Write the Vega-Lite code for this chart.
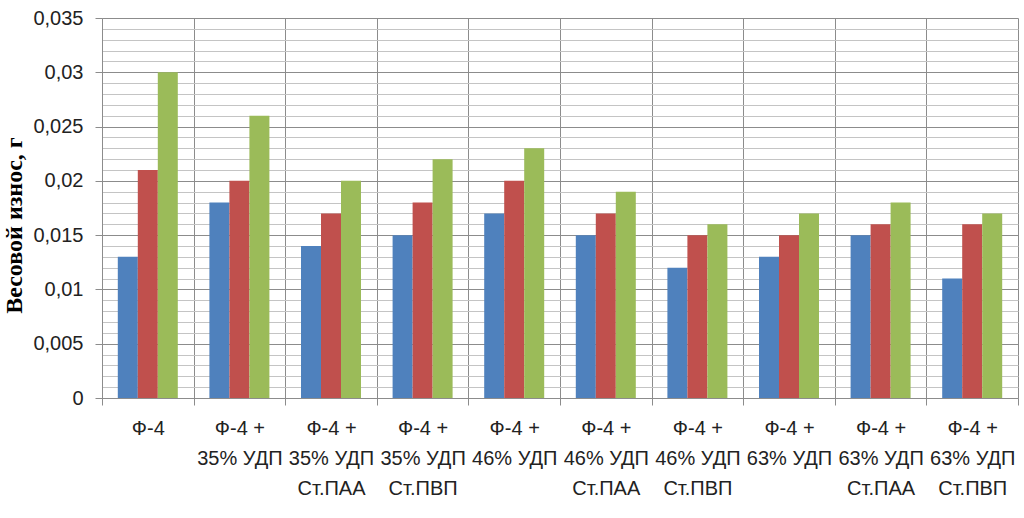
{
  "$schema": "https://vega.github.io/schema/vega-lite/v6.json",
  "width": 916,
  "height": 380,
  "autosize": "none",
  "padding": {"left": 102, "top": 18, "right": 6, "bottom": 120},
  "background": "white",
  "data": {
    "values": [
      {"group": "Ф-4", "s": "a", "v": 0.013},
      {"group": "Ф-4", "s": "b", "v": 0.021},
      {"group": "Ф-4", "s": "c", "v": 0.030},
      {"group": "Ф-4 +|35% УДП", "s": "a", "v": 0.018},
      {"group": "Ф-4 +|35% УДП", "s": "b", "v": 0.020},
      {"group": "Ф-4 +|35% УДП", "s": "c", "v": 0.026},
      {"group": "Ф-4 +|35% УДП|Ст.ПАА", "s": "a", "v": 0.014},
      {"group": "Ф-4 +|35% УДП|Ст.ПАА", "s": "b", "v": 0.017},
      {"group": "Ф-4 +|35% УДП|Ст.ПАА", "s": "c", "v": 0.020},
      {"group": "Ф-4 +|35% УДП|Ст.ПВП", "s": "a", "v": 0.015},
      {"group": "Ф-4 +|35% УДП|Ст.ПВП", "s": "b", "v": 0.018},
      {"group": "Ф-4 +|35% УДП|Ст.ПВП", "s": "c", "v": 0.022},
      {"group": "Ф-4 +|46% УДП", "s": "a", "v": 0.017},
      {"group": "Ф-4 +|46% УДП", "s": "b", "v": 0.020},
      {"group": "Ф-4 +|46% УДП", "s": "c", "v": 0.023},
      {"group": "Ф-4 +|46% УДП|Ст.ПАА", "s": "a", "v": 0.015},
      {"group": "Ф-4 +|46% УДП|Ст.ПАА", "s": "b", "v": 0.017},
      {"group": "Ф-4 +|46% УДП|Ст.ПАА", "s": "c", "v": 0.019},
      {"group": "Ф-4 +|46% УДП|Ст.ПВП", "s": "a", "v": 0.012},
      {"group": "Ф-4 +|46% УДП|Ст.ПВП", "s": "b", "v": 0.015},
      {"group": "Ф-4 +|46% УДП|Ст.ПВП", "s": "c", "v": 0.016},
      {"group": "Ф-4 +|63% УДП", "s": "a", "v": 0.013},
      {"group": "Ф-4 +|63% УДП", "s": "b", "v": 0.015},
      {"group": "Ф-4 +|63% УДП", "s": "c", "v": 0.017},
      {"group": "Ф-4 +|63% УДП|Ст.ПАА", "s": "a", "v": 0.015},
      {"group": "Ф-4 +|63% УДП|Ст.ПАА", "s": "b", "v": 0.016},
      {"group": "Ф-4 +|63% УДП|Ст.ПАА", "s": "c", "v": 0.018},
      {"group": "Ф-4 +|63% УДП|Ст.ПВП", "s": "a", "v": 0.011},
      {"group": "Ф-4 +|63% УДП|Ст.ПВП", "s": "b", "v": 0.016},
      {"group": "Ф-4 +|63% УДП|Ст.ПВП", "s": "c", "v": 0.017}
    ]
  },
  "mark": {"type": "bar"},
  "encoding": {
    "x": {
      "field": "group",
      "type": "nominal",
      "sort": null,
      "scale": {"paddingInner": 0, "paddingOuter": 0},
      "axis": {
        "title": null,
        "labelAngle": 0,
        "labelExpr": "isValid(datum.value) ? split(datum.value, '|') : ''",
        "labelFont": "Liberation Sans",
        "labelFontSize": 20,
        "labelColor": "#222",
        "labelLineHeight": 30,
        "labelPadding": 13,
        "labelBaseline": "top",
        "labelOverlap": false,
        "labelBound": false,
        "tickBand": "extent",
        "tickSize": 7,
        "tickColor": "#8c8c8c",
        "domainColor": "#8c8c8c",
        "grid": true,
        "gridColor": "#8c8c8c"
      }
    },
    "xOffset": {
      "field": "s",
      "type": "nominal",
      "scale": {"paddingInner": 0, "paddingOuter": 0.79}
    },
    "y": {
      "field": "v",
      "type": "quantitative",
      "scale": {"domain": [0, 0.035], "nice": false},
      "axis": {
        "title": "Весовой износ, г",
        "titleFont": "Liberation Serif",
        "titleFontSize": 24,
        "titleFontWeight": "bold",
        "titleColor": "#000",
        "titleX": -76,
        "titleY": 207,
        "values": [0, 0.001, 0.002, 0.003, 0.004, 0.005, 0.006, 0.007, 0.008, 0.009, 0.01, 0.011, 0.012, 0.013, 0.014, 0.015, 0.016, 0.017, 0.018, 0.019, 0.02, 0.021, 0.022, 0.023, 0.024, 0.025, 0.026, 0.027, 0.028, 0.029, 0.03, 0.031, 0.032, 0.033, 0.034, 0.035],
        "labelExpr": "round(datum.value * 1000) % 5 == 0 ? replace(format(datum.value, '~r'), '.', ',') : ''",
        "labelFont": "Liberation Sans",
        "labelFontSize": 20,
        "labelColor": "#222",
        "labelPadding": 12,
        "tickSize": 7,
        "tickColor": {"condition": {"test": "round(datum.value * 1000) % 5 == 0", "value": "#8c8c8c"}, "value": "transparent"},
        "domainColor": "#8c8c8c",
        "grid": true,
        "gridColor": {"condition": {"test": "round(datum.value * 1000) % 5 == 0", "value": "#8c8c8c"}, "value": "#c4c4c4"}
      }
    },
    "color": {
      "field": "s",
      "type": "nominal",
      "scale": {"domain": ["a", "b", "c"], "range": ["#4F81BD", "#C0504D", "#9BBB59"]},
      "legend": null
    }
  },
  "config": {
    "view": {"stroke": null}
  }
}
